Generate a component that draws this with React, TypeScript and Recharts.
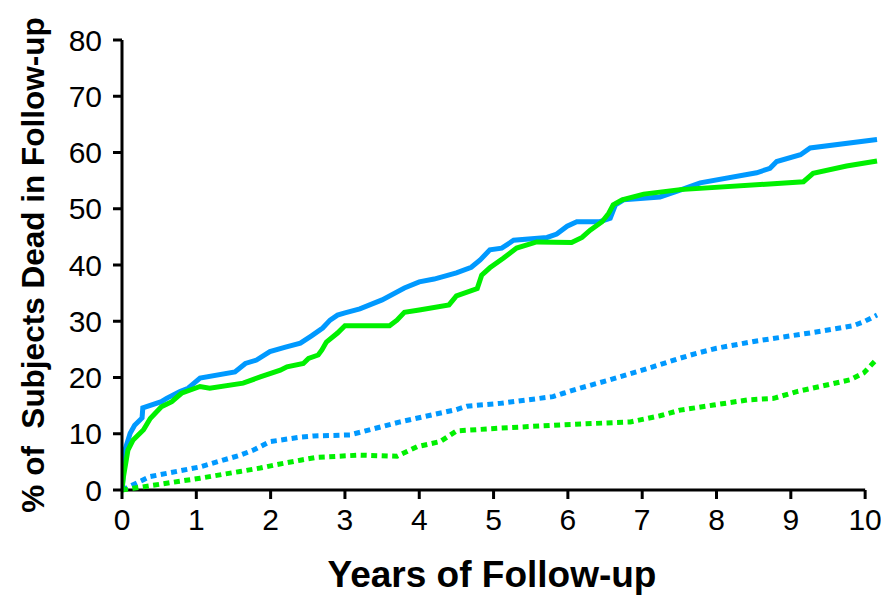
import { Label, Line, LineChart, ReferenceLine, XAxis, YAxis } from "recharts";

// [years, % dead]
const blueSolid: [number, number][] = [
  [0, 0], [0.04, 7.1], [0.11, 10.1], [0.17, 11.5], [0.27, 12.8], [0.28, 14.6],
  [0.53, 15.7], [0.6, 16.3], [0.78, 17.5], [0.89, 18.1], [1.05, 19.9], [1.52, 21.0],
  [1.66, 22.5], [1.81, 23.1], [1.99, 24.6], [2.2, 25.4], [2.4, 26.1], [2.55, 27.4],
  [2.7, 28.8], [2.8, 30.2], [2.9, 31.1], [3.0, 31.5], [3.2, 32.2], [3.5, 33.8],
  [3.8, 35.9], [4.0, 37.0], [4.2, 37.5], [4.5, 38.6], [4.7, 39.6], [4.82, 40.9],
  [4.95, 42.7], [5.11, 43.0], [5.27, 44.4], [5.72, 44.9], [5.85, 45.5], [5.99, 46.9],
  [6.12, 47.7], [6.43, 47.7], [6.57, 48.3], [6.64, 50.7], [6.75, 51.6], [7.24, 52.1],
  [7.51, 53.3], [7.78, 54.6], [8.54, 56.4], [8.72, 57.2], [8.81, 58.4], [9.13, 59.6],
  [9.26, 60.8], [10.16, 62.3],
];

const greenSolid: [number, number][] = [
  [0, 0], [0.02, 2.4], [0.08, 7.1], [0.15, 8.9], [0.29, 10.7], [0.38, 12.7],
  [0.53, 14.8], [0.67, 15.7], [0.8, 17.2], [1.05, 18.4], [1.18, 18.1], [1.63, 19.0],
  [1.86, 20.1], [2.13, 21.3], [2.22, 21.9], [2.44, 22.5], [2.51, 23.4], [2.64, 24.0],
  [2.69, 24.9], [2.75, 26.3], [2.9, 27.9], [3.0, 29.2], [3.6, 29.2], [3.7, 30.2],
  [3.8, 31.6], [4.0, 32.0], [4.4, 32.9], [4.5, 34.5], [4.78, 35.8], [4.84, 38.2],
  [4.95, 39.5], [5.13, 41.2], [5.31, 43.0], [5.58, 44.1], [6.05, 44.0], [6.19, 44.9],
  [6.3, 46.2], [6.46, 47.7], [6.55, 49.2], [6.61, 50.7], [6.73, 51.6], [7.02, 52.6],
  [7.51, 53.4], [9.17, 54.8], [9.3, 56.3], [9.75, 57.6], [10.16, 58.5],
];

const blueDotted: [number, number][] = [
  [0, 0], [0.38, 2.4], [1.05, 4.1], [1.59, 6.2], [1.77, 7.1], [1.99, 8.6],
  [2.4, 9.4], [2.58, 9.6], [3.07, 9.8], [3.74, 12.1], [4.5, 14.3], [4.64, 14.9],
  [5.09, 15.4], [5.8, 16.6], [5.94, 17.2], [6.16, 18.1], [6.57, 19.6], [7.0, 21.3],
  [7.5, 23.4], [7.73, 24.3], [8.0, 25.2], [8.54, 26.5], [9.3, 28.0], [9.84, 29.2],
  [9.98, 29.9], [10.16, 31.1],
];

const greenDotted: [number, number][] = [
  [0, 0], [0.15, 0.3], [0.6, 1.2], [1.05, 2.1], [1.59, 3.3], [1.86, 3.9],
  [2.04, 4.4], [2.4, 5.3], [2.62, 5.8], [3.2, 6.2], [3.7, 6.0], [3.97, 7.7],
  [4.28, 8.6], [4.5, 10.5], [5.09, 11.0], [5.94, 11.6], [6.84, 12.1], [7.24, 13.2],
  [7.51, 14.2], [7.96, 15.1], [8.41, 16.0], [8.77, 16.3], [9.08, 17.5], [9.53, 18.8],
  [9.8, 19.6], [9.98, 20.8], [10.16, 23.3],
];

const xTicks = [0, 1, 2, 3, 4, 5, 6, 7, 8, 9, 10];
const yTicks = [0, 10, 20, 30, 40, 50, 60, 70, 80];

const BLUE = "#0099ff";
const GREEN = "#00f000";
const FONT = "'Liberation Sans', Arial, sans-serif";

const toRows = (pts: [number, number][]) => pts.map(([x, y]) => ({ x, y }));

export default function App() {
  const series = [
    { key: "bd", data: toRows(blueDotted), color: BLUE, dash: "6 4.5" },
    { key: "gd", data: toRows(greenDotted), color: GREEN, dash: "6 4.5" },
    { key: "bs", data: toRows(blueSolid), color: BLUE, dash: undefined },
    { key: "gs", data: toRows(greenSolid), color: GREEN, dash: undefined },
  ];

  return (
    <div style={{ position: "absolute", left: 0, top: 0, background: "#fff" }}>
      <LineChart width={881} height={595} margin={{ top: 40, right: 1, left: 0, bottom: 0 }}>
        <XAxis
          type="number"
          dataKey="x"
          domain={[0, 10.2]}
          ticks={xTicks}
          allowDataOverflow
          axisLine={false}
          tickLine={{ stroke: "#000", strokeWidth: 3 }}
          tickSize={9}
          tickMargin={10}
          height={105}
          tick={{ fill: "#000", fontSize: 30, fontFamily: FONT }}
        >
          <Label
            content={({ viewBox }: any) => (
              <text
                x={viewBox.x + 370}
                y={viewBox.y + 97}
                textAnchor="middle"
                fontFamily={FONT}
                fontWeight="bold"
                fontSize={37}
                fill="#000"
              >
                Years of Follow-up
              </text>
            )}
          />
        </XAxis>
        <YAxis
          type="number"
          domain={[0, 80]}
          ticks={yTicks}
          width={122}
          axisLine={{ stroke: "#000", strokeWidth: 3 }}
          tickLine={{ stroke: "#000", strokeWidth: 3 }}
          tickSize={9}
          tickMargin={11}
          tick={{ fill: "#000", fontSize: 30, fontFamily: FONT }}
        >
          <Label
            content={({ viewBox }: any) => (
              <text
                x={33}
                y={viewBox.y + 225}
                transform={`rotate(-90 33 ${viewBox.y + 225})`}
                textAnchor="middle"
                dominantBaseline="central"
                fontFamily={FONT}
                fontWeight="bold"
                fontSize={31.5}
                fill="#000"
                style={{ whiteSpace: "pre" }}
              >
                {"% of  Subjects Dead in Follow-up"}
              </text>
            )}
          />
        </YAxis>
        <ReferenceLine
          segment={[{ x: 0, y: 0 }, { x: 10, y: 0 }]}
          stroke="#000"
          strokeWidth={3}
          ifOverflow="visible"
        />
        {series.map((s) => (
          <Line
            key={s.key}
            data={s.data}
            dataKey="y"
            type="linear"
            stroke={s.color}
            strokeWidth={5}
            strokeDasharray={s.dash}
            dot={false}
            activeDot={false}
            isAnimationActive={false}
          />
        ))}
      </LineChart>
    </div>
  );
}
